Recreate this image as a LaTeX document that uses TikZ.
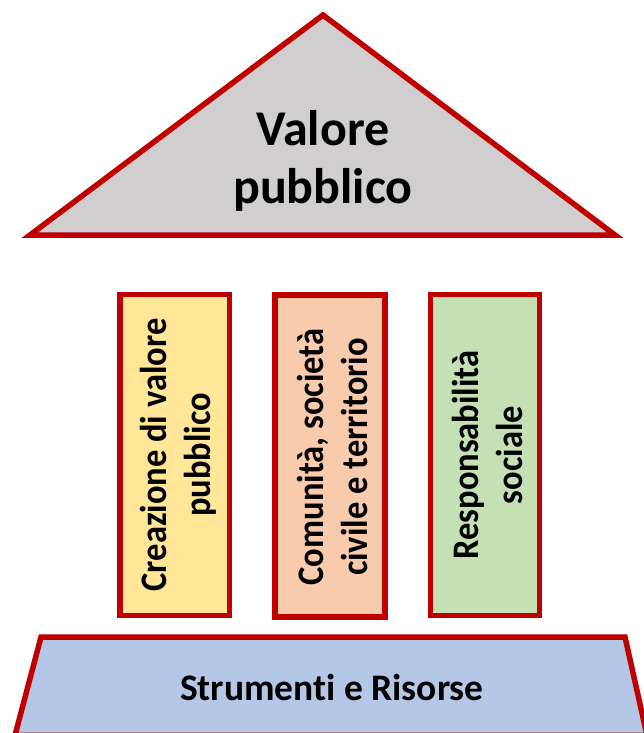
\documentclass[tikz,border=0pt]{standalone}
\usepackage{fontspec}
\setmainfont{Carlito}[Ligatures=NoCommon]
\newfontfamily\pillarfont{Carlito}[Ligatures=NoCommon,FakeStretch=0.92]
\definecolor{frame}{HTML}{C00000}
\definecolor{roofc}{HTML}{D0CECE}
\definecolor{pa}{HTML}{FFE699}
\definecolor{pb}{HTML}{F8CBAD}
\definecolor{pc}{HTML}{C5E0B4}
\definecolor{basec}{HTML}{B4C7E7}
\tikzset{x=1pt,y=-1pt,
 shapeline/.style={draw=frame,line width=5.5pt,line join=miter},
 ptext/.style={rotate=90,align=center,font=\pillarfont\bfseries\fontsize{37.5}{44}\selectfont,text=black,anchor=center}}
\begin{document}
\begin{tikzpicture}
\useasboundingbox (0,0) rectangle (644,733);
\path[fill=white] (0,0) rectangle (644,733);
\begin{scope}
\clip (0,0) rectangle (644,733);
\draw[shapeline,fill=roofc] (323,15) -- (615,235) -- (30,235) -- cycle;
\node[align=center,font=\bfseries\fontsize{50}{58}\selectfont] (roof) at (323,160.5) {Valore\\pubblico};
\draw[shapeline,fill=pa] (120,294.5) rectangle (229.5,615.5);
\node[ptext] (a) at (178,455) {Creazione di valore\\pubblico};
\draw[shapeline,fill=pb] (275,295) rectangle (385,617);
\node[ptext] (b) at (332.5,457) {Comunità, società\\civile e territorio};
\draw[shapeline,fill=pc] (430.5,294.5) rectangle (539.5,615.5);
\node[ptext] (c) at (487.5,455) {Responsabilità\\sociale};
\draw[shapeline,fill=basec] (41,637) -- (625,637) -- (647,735.3) -- (15,735.3) -- cycle;
\node[font=\bfseries\fontsize{37.5}{44}\selectfont] (base) at (332,687) {Strumenti e Risorse};
\end{scope}
\end{tikzpicture}
\end{document}
